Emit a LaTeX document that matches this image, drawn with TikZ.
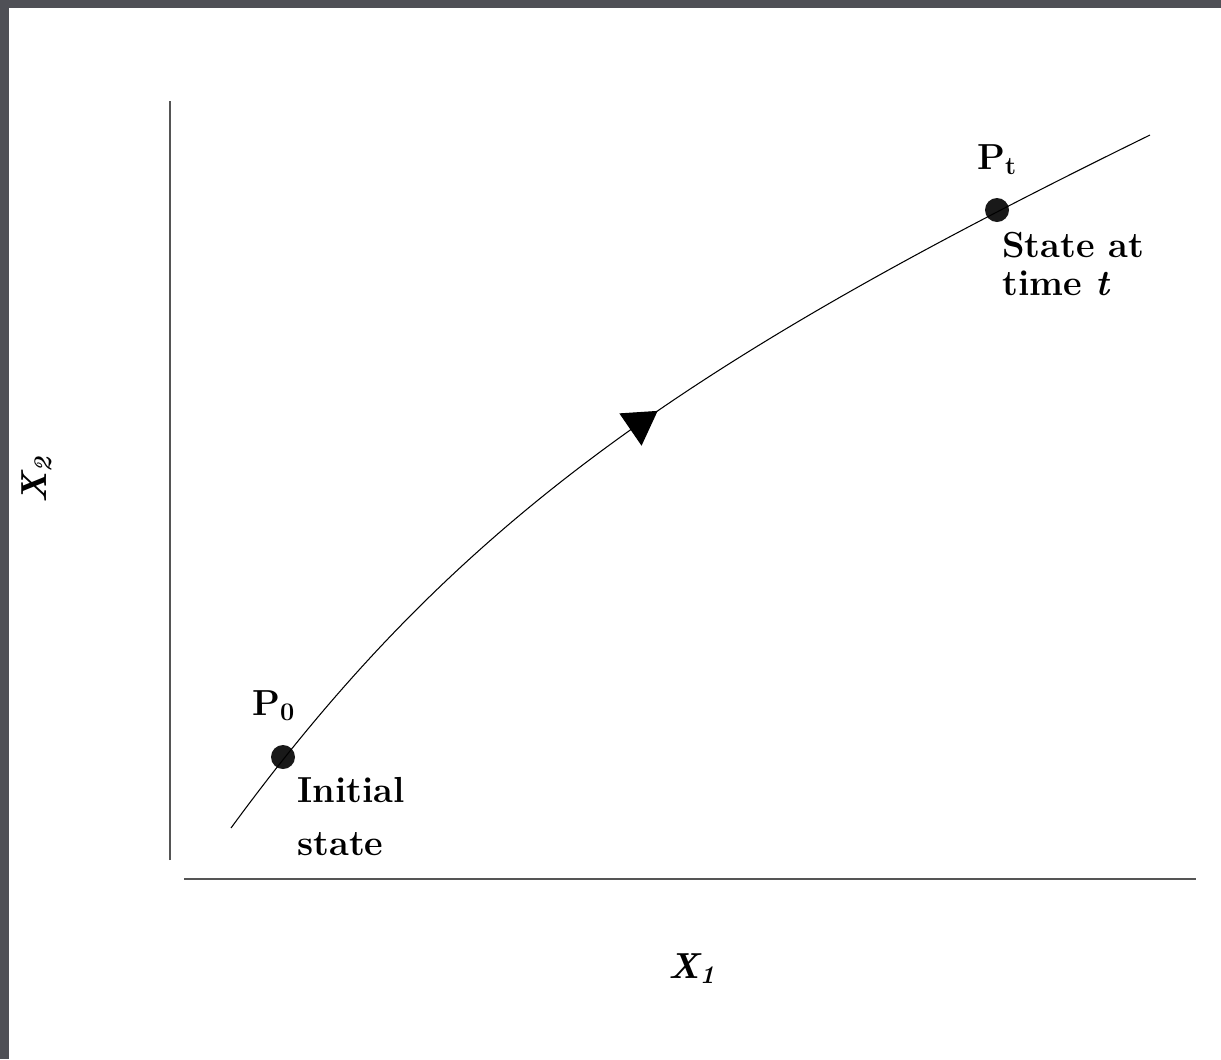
\documentclass[tikz,border=0pt]{standalone}
\usepackage{tikz}
\usetikzlibrary{arrows.meta, decorations.markings}
\definecolor{moldura}{HTML}{4F5056}
\definecolor{corEixo}{HTML}{555555}

\begin{document}
\begin{tikzpicture}[x=0.02cm, y=-0.02cm,
        eixo/.style={draw=corEixo, line width=0.9pt},
        traj/.style={line width=0.6pt, postaction={decorate},
                     decoration={markings, mark=at position 0.515 with {\arrow{Triangle[length=6.6mm, width=7.8mm]}}}},
        ponto/.style={circle, fill=black!90, minimum size=4.8mm, inner sep=0pt},
        rot/.style={font=\fontsize{20.6}{21.6}\selectfont\bfseries, inner sep=0pt, align=left}
    ]
    \useasboundingbox (0,0) rectangle (1221,1059);
    % moldura cinzenta
    \fill[moldura] (0,0) rectangle (1221,8);
    \fill[moldura] (0,0) rectangle (9,1059);
    % eixos
    \coordinate (ytop) at (170,101);
    \coordinate (ybot) at (170,860);
    \coordinate (xleft) at (184,879);
    \coordinate (xright) at (1196,879);
    \draw[eixo] (ybot) -- (ytop);
    \draw[eixo] (xleft) -- (xright);
    \node[rot, anchor=base west] (x1) at (668,978) {\textit{X\textsubscript{1}}};
    \node[rot, anchor=base west, rotate=90] (x2) at (46,504) {\textit{X\textsubscript{2}}};
    % estados
    \node[ponto] (p0) at (283,757) {};
    \node[ponto] (pt) at (997,210) {};
    \coordinate (ini) at (231,828);
    \coordinate (fim) at (1150,135);
    \draw[traj] (ini) .. controls (455.6,521.3) and (683,363.8) .. (fim);
    % rotulos
    \node[rot, anchor=base west] (lp0) at (252,715) {P$_{\mathbf{0}}$};
    \node[rot, anchor=base west] (lpt) at (977,169) {P$_{\mathbf{t}}$};
    \node[rot, anchor=north west] (lini) at (297,777) {Initial\\[8.5pt]state};
    \node[rot, anchor=north west] (lest) at (1002,232) {State at\\time \textit{t}};
\end{tikzpicture}
\end{document}
